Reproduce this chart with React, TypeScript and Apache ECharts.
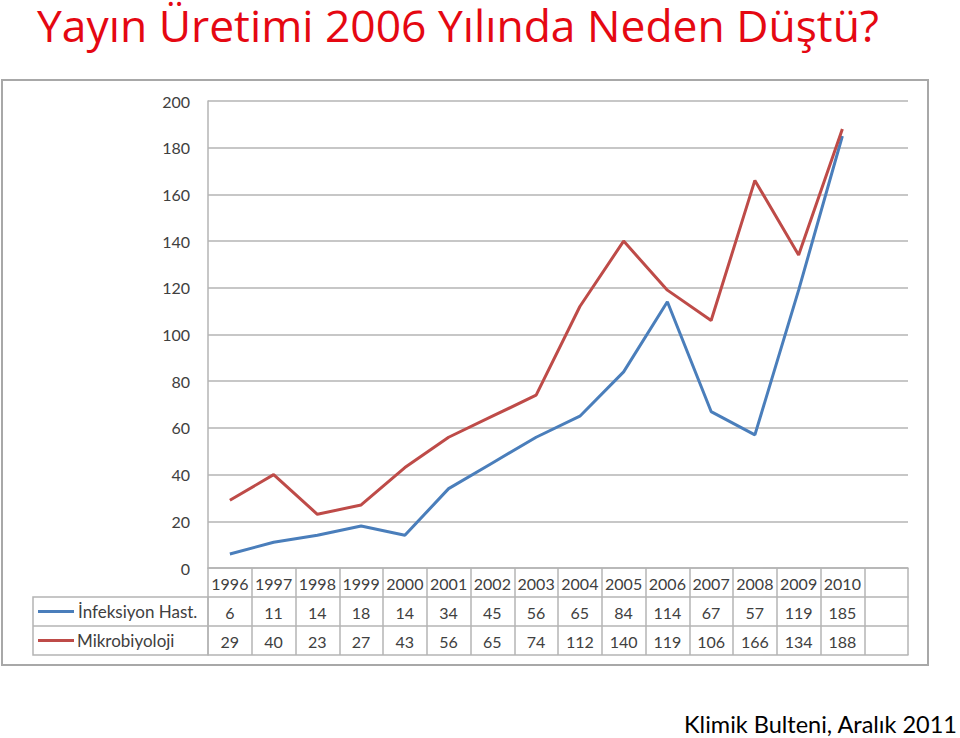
import React, { useEffect, useRef } from "react";
import * as echarts from "echarts";

const years = ["1996","1997","1998","1999","2000","2001","2002","2003","2004","2005","2006","2007","2008","2009","2010"];
const infeksiyon = [6, 11, 14, 18, 14, 34, 45, 56, 65, 84, 114, 67, 57, 119, 185];
const mikrobiyoloji = [29, 40, 23, 27, 43, 56, 65, 74, 112, 140, 119, 106, 166, 134, 188];
const seriesNames = ["İnfeksiyon Hast.", "Mikrobiyoloji"];
const titleText = "Yayın Üretimi 2006 Yılında Neden Düştü?";
const footerText = "Klimik Bulteni, Aralık 2011";

const BLUE = "#4A7EBB";
const RED = "#BE4B48";
const GRIDC = "#b4b4b4";
const TXT = "#404040";
const FONT = "Lato";

export default function App() {
  const ref = useRef<HTMLDivElement>(null);
  useEffect(() => {
    const chart = echarts.init(ref.current!, null, { renderer: "svg" });
    const cats = [...years, ""];
    const row1 = [...infeksiyon.map(String), ""];
    const row2 = [...mikrobiyoloji.map(String), ""];
    const gridLeft = 208, gridRight = 908, gridTop = 101, gridBottom = 568;
    const rowH = 29;
    const tableAxis = (data: string[], offset: number, showLabel: boolean, showTick: boolean) => ({
      type: "category",
      data,
      position: "bottom",
      offset,
      boundaryGap: true,
      axisLine: { show: true, lineStyle: { color: GRIDC, width: 1.5 } },
      axisTick: { show: showTick, length: rowH, lineStyle: { color: GRIDC, width: 1.5 } },
      axisLabel: { show: showLabel, interval: 0, margin: 7, fontSize: 16, color: TXT, fontFamily: FONT },
      splitLine: { show: false },
    });
    chart.setOption({
      animation: false,
      backgroundColor: "#ffffff",
      grid: { left: gridLeft, right: 960 - gridRight, top: gridTop, bottom: 738 - gridBottom, containLabel: false },
      xAxis: [
        tableAxis(cats, 0, true, true),
        tableAxis(row1, rowH, true, true),
        tableAxis(row2, rowH * 2, true, true),
        tableAxis(cats, rowH * 3, false, false),
      ],
      yAxis: {
        type: "value",
        min: 0,
        max: 200,
        interval: 20,
        axisLine: { show: true, lineStyle: { color: GRIDC, width: 1.5 } },
        axisTick: { show: false },
        axisLabel: { margin: 18, fontSize: 16, color: TXT, fontFamily: FONT },
        splitLine: { show: true, lineStyle: { color: GRIDC, width: 1.5 } },
      },
      series: [
        {
          name: seriesNames[0],
          type: "line",
          data: infeksiyon,
          xAxisIndex: 0,
          symbol: "none",
          lineStyle: { color: BLUE, width: 3 },
          itemStyle: { color: BLUE },
        },
        {
          name: seriesNames[1],
          type: "line",
          data: mikrobiyoloji,
          xAxisIndex: 0,
          symbol: "none",
          lineStyle: { color: RED, width: 3 },
          itemStyle: { color: RED },
        },
      ],
      graphic: [
        {
          type: "rect",
          shape: { x: 2, y: 80, width: 926, height: 585 },
          style: { fill: "none", stroke: "#a8a8a8", lineWidth: 2 },
          z: -1,
        },
        {
          type: "rect",
          shape: { x: 33, y: gridBottom + rowH, width: gridLeft - 33, height: rowH * 2 },
          style: { fill: "none", stroke: GRIDC, lineWidth: 1.5 },
        },
        {
          type: "line",
          shape: { x1: 33, y1: gridBottom + rowH * 2, x2: gridLeft, y2: gridBottom + rowH * 2 },
          style: { stroke: GRIDC, lineWidth: 1.5 },
        },
        {
          type: "line",
          shape: { x1: 38, y1: gridBottom + rowH * 1.5, x2: 74, y2: gridBottom + rowH * 1.5 },
          style: { stroke: BLUE, lineWidth: 3 },
        },
        {
          type: "line",
          shape: { x1: 38, y1: gridBottom + rowH * 2.5, x2: 74, y2: gridBottom + rowH * 2.5 },
          style: { stroke: RED, lineWidth: 3 },
        },
        {
          type: "text",
          x: 78,
          y: gridBottom + rowH * 1.5,
          style: { text: seriesNames[0], fontSize: 17, fill: TXT, fontFamily: FONT, verticalAlign: "middle" },
        },
        {
          type: "text",
          x: 77,
          y: gridBottom + rowH * 2.5,
          style: { text: seriesNames[1], fontSize: 17, fill: TXT, fontFamily: FONT, verticalAlign: "middle" },
        },
        {
          type: "text",
          x: 37,
          y: 25,
          style: { text: titleText, fontSize: 44.4, lineHeight: 46, fill: "#E50812", fontFamily: "Open Sans", verticalAlign: "middle" },
        },
        {
          type: "text",
          x: 957,
          y: 736,
          style: { text: footerText, fontSize: 23.5, fill: "#000000", fontFamily: FONT, align: "right", verticalAlign: "bottom" },
        },
      ],
    });
    return () => chart.dispose();
  }, []);
  return <div ref={ref} style={{ position: "absolute", left: 0, top: 0, width: 960, height: 738 }} />;
}
